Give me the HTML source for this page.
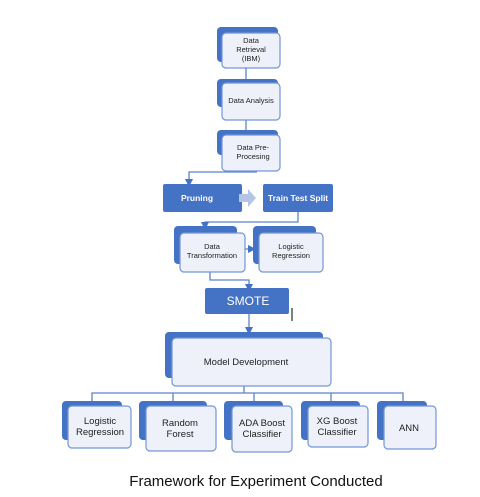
<!DOCTYPE html>
<html><head><style>body{margin:0;background:#fff}svg{display:block}text{font-family:"Liberation Sans",sans-serif}</style></head><body>
<svg width="480" height="497" viewBox="0 0 480 497" xmlns="http://www.w3.org/2000/svg">
<defs><marker id="a" markerWidth="8" markerHeight="8" refX="4" refY="4" orient="auto" markerUnits="userSpaceOnUse"><path d="M0,0 L8,4 L0,8Z" fill="#4472c4"/></marker></defs>
<g fill="none" stroke="#5a82cc" stroke-width="1.3">
<line x1="246" y1="68" x2="246" y2="83"/>
<line x1="246" y1="120" x2="246" y2="135"/>
<path d="M257,172 H189 V183" marker-end="url(#a)"/>
<path d="M298,212 V222 H205 V226" marker-end="url(#a)"/>
<path d="M245,249 H252" marker-end="url(#a)"/>
<path d="M210,272 V280 H249 V288" marker-end="url(#a)"/>
<path d="M249,314 V331" marker-end="url(#a)"/>
<path d="M244,386 V393 M92,401 V393 H403 V401 M173,393 V401 M254,393 V401 M331,393 V401"/>
</g>
<line x1="292" y1="308" x2="292" y2="321" stroke="#000" stroke-width="1"/>
<g fill="#4472c4">
<rect x="217" y="27" width="61" height="35" rx="4"/>
<rect x="217" y="79" width="61" height="28" rx="4"/>
<rect x="217" y="130" width="61" height="25" rx="4"/>
<rect x="174" y="226" width="63" height="38" rx="4"/>
<rect x="253" y="226" width="63" height="38" rx="4"/>
<rect x="165" y="332" width="158" height="46" rx="4"/>
<rect x="62" y="401" width="60" height="39" rx="4"/>
<rect x="139" y="401" width="68" height="39" rx="4"/>
<rect x="224" y="401" width="59" height="39" rx="4"/>
<rect x="301" y="401" width="59" height="39" rx="4"/>
<rect x="377" y="401" width="50" height="39" rx="4"/>
<rect x="163" y="184" width="79" height="28" rx="2"/>
<rect x="263" y="184" width="70" height="28" rx="2"/>
<rect x="205" y="288" width="84" height="26" rx="2"/>
</g>
<path d="M239,194 H248 V189 L256,198 L248,207 V202 H239Z" fill="#b4c4e4"/>
<g fill="#eef1f9" stroke="#7396d8" stroke-width="1.2">
<rect x="222" y="33" width="58" height="35" rx="4"/>
<rect x="222" y="83" width="58" height="37" rx="4"/>
<rect x="222" y="135" width="58" height="36" rx="4"/>
<rect x="180" y="233" width="65" height="39" rx="4"/>
<rect x="259" y="233" width="64" height="39" rx="4"/>
<rect x="172" y="338" width="159" height="48" rx="4"/>
<rect x="68" y="406" width="63" height="42" rx="4"/>
<rect x="146" y="406" width="70" height="45" rx="4"/>
<rect x="232" y="406" width="60" height="46" rx="4"/>
<rect x="308" y="406" width="60" height="41" rx="4"/>
<rect x="384" y="406" width="52" height="43" rx="4"/>
</g>
<g font-size="7.5" fill="#222" text-anchor="middle">
<text x="251" y="43">Data</text><text x="251" y="52">Retrieval</text><text x="251" y="61">(IBM)</text>
<text x="251" y="103">Data Analysis</text>
<text x="253" y="150">Data Pre-</text><text x="253" y="159">Procesing</text>
<text x="212" y="249">Data</text><text x="212" y="258">Transformation</text>
<text x="291" y="249">Logistic</text><text x="291" y="258">Regression</text>
</g>
<g fill="#fff" font-weight="bold" font-size="8.5" text-anchor="middle">
<text x="197" y="201">Pruning</text><text x="298" y="201">Train Test Split</text>
</g>
<text x="248" y="305" fill="#fff" font-size="12" text-anchor="middle">SMOTE</text>
<text x="246" y="365" font-size="9.5" fill="#222" text-anchor="middle">Model Development</text>
<g font-size="9.5" fill="#222" text-anchor="middle">
<text x="100" y="424">Logistic</text><text x="100" y="435">Regression</text>
<text x="180" y="426">Random</text><text x="180" y="437">Forest</text>
<text x="262" y="426">ADA Boost</text><text x="262" y="437">Classifier</text>
<text x="337" y="424">XG Boost</text><text x="337" y="435">Classifier</text>
<text x="409" y="431">ANN</text>
</g>
<text x="256" y="486" font-size="15" fill="#111" text-anchor="middle">Framework for Experiment Conducted</text>
</svg>
</body></html>
